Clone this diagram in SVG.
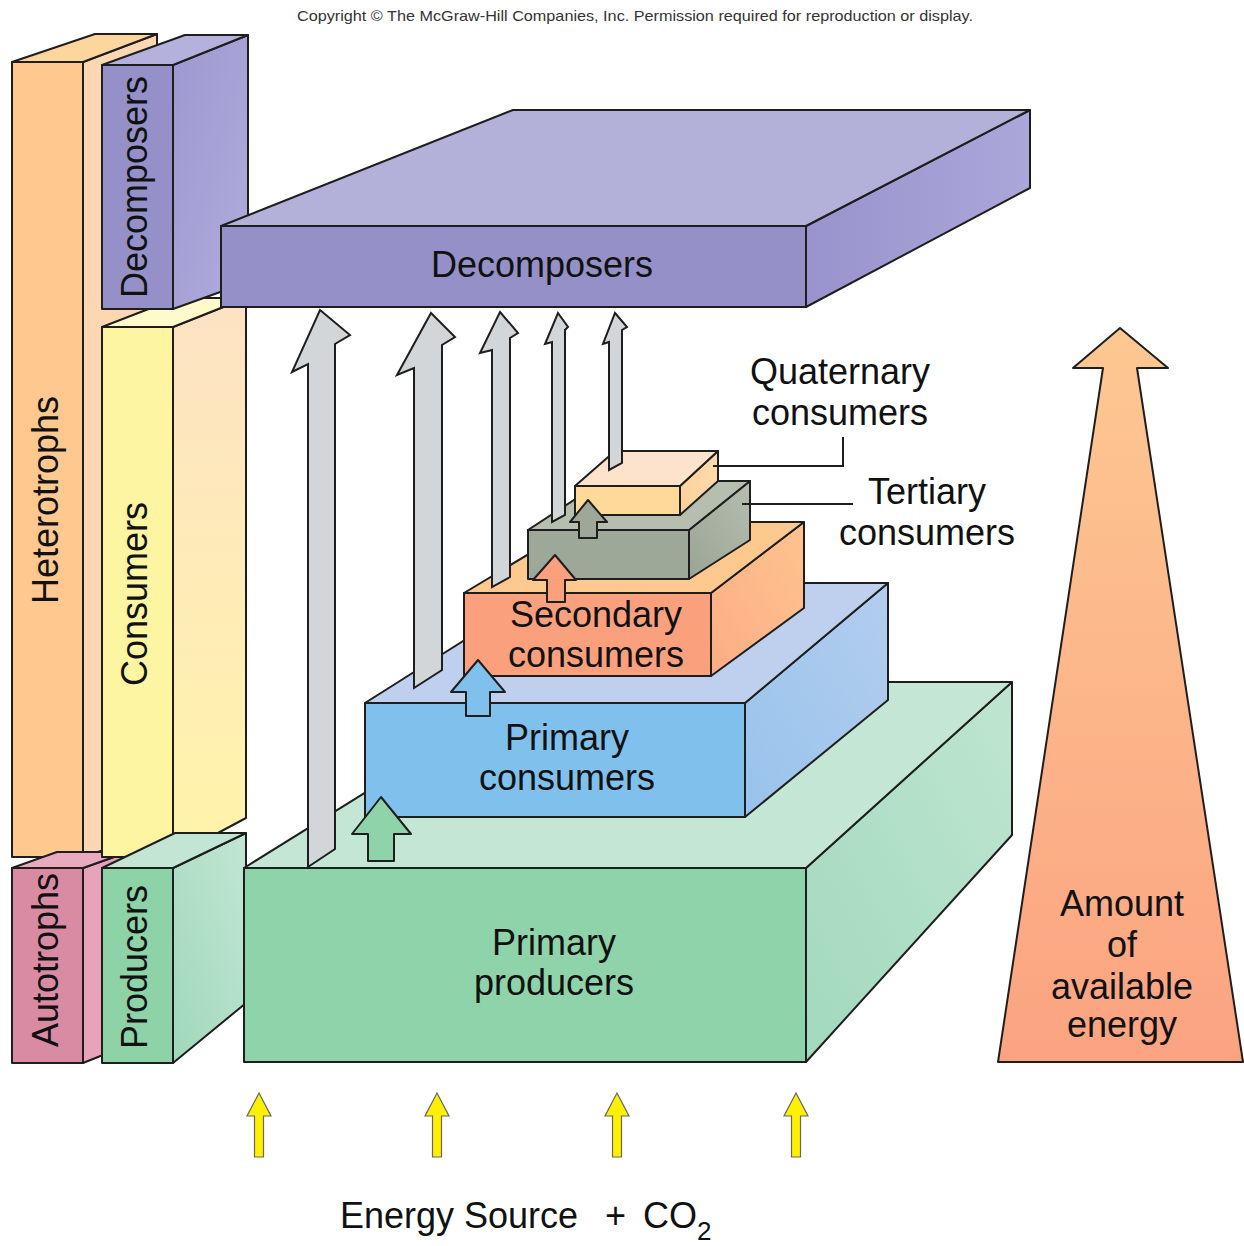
<svg xmlns="http://www.w3.org/2000/svg" width="1244" height="1246" viewBox="0 0 1244 1246">
<defs>
<style>
.s{stroke:#1e1e1e;stroke-width:2;stroke-linejoin:round}
.t{font-family:"Liberation Sans",Arial,sans-serif;font-size:36px;fill:#111}
.c{text-anchor:middle}
.ga{fill:#d3d6d9;stroke:#1e1e1e;stroke-width:2;stroke-linejoin:miter}
.ya{fill:#fff000;stroke:#666;stroke-width:1.2}
.ld{fill:none;stroke:#1e1e1e;stroke-width:2}
</style>
<linearGradient id="gSlab" x1="0" y1="0" x2="1" y2="0"><stop offset="0" stop-color="#9893cc"/><stop offset="1" stop-color="#aba7da"/></linearGradient>
<linearGradient id="gDecCol" x1="0" y1="0" x2="1" y2="1"><stop offset="0" stop-color="#9d98d0"/><stop offset="1" stop-color="#b0acdc"/></linearGradient>
<linearGradient id="gConsCol" x1="0" y1="0" x2="0" y2="1"><stop offset="0" stop-color="#fde2c4"/><stop offset="1" stop-color="#fff4aa"/></linearGradient>
<linearGradient id="gProdCol" x1="0" y1="1" x2="1" y2="0"><stop offset="0" stop-color="#9fd8ba"/><stop offset="1" stop-color="#c2e6d4"/></linearGradient>
<linearGradient id="gProd" x1="0" y1="1" x2="1" y2="0"><stop offset="0" stop-color="#a2d9bd"/><stop offset="1" stop-color="#bfe5d1"/></linearGradient>
<linearGradient id="gBlue" x1="0" y1="1" x2="1" y2="0"><stop offset="0" stop-color="#98c3ec"/><stop offset="1" stop-color="#b3cdee"/></linearGradient>
<linearGradient id="gSal" x1="0" y1="1" x2="1" y2="0"><stop offset="0" stop-color="#fcad86"/><stop offset="1" stop-color="#fec38e"/></linearGradient>
<linearGradient id="gTer" x1="0" y1="1" x2="1" y2="0"><stop offset="0" stop-color="#9aa494"/><stop offset="1" stop-color="#b6bdb0"/></linearGradient>
<linearGradient id="gQua" x1="0" y1="1" x2="1" y2="0"><stop offset="0" stop-color="#fdd096"/><stop offset="1" stop-color="#fddcb0"/></linearGradient>
<linearGradient id="gEnergy" x1="0" y1="0" x2="0" y2="1"><stop offset="0" stop-color="#fdc892"/><stop offset="1" stop-color="#fba381"/></linearGradient>
</defs>
<rect width="1244" height="1246" fill="#ffffff"/>
<text x="635" y="21" text-anchor="middle" font-family="'Liberation Sans',Arial,sans-serif" font-size="15" fill="#333" textLength="676" lengthAdjust="spacingAndGlyphs">Copyright © The McGraw-Hill Companies, Inc. Permission required for reproduction or display.</text>

<g id="heterotrophs">
<polygon class="s" points="83,62 157,34 157,832 83,857" fill="#fdd6b2"/>
<polygon class="s" points="12,62 83,62 157,34 95,34" fill="#fdd69e"/>
<rect class="s" x="12" y="62" width="71" height="795" fill="#fec88f"/>
<text class="t c" transform="translate(58,500) rotate(-90)">Heterotrophs</text>
</g>

<g id="autotrophs">
<polygon class="s" points="83,868 128,852 128,1045 83,1063" fill="#e8a2ba"/>
<polygon class="s" points="12,868 83,868 128,852 57,852" fill="#e9aac0"/>
<rect class="s" x="12" y="868" width="71" height="195" fill="#da8ba4"/>
<text class="t c" transform="translate(58,960) rotate(-90)">Autotrophs</text>
</g>

<g id="consumers-column">
<polygon class="s" points="173,327 246,298 246,818 173,857" fill="url(#gConsCol)"/>
<polygon class="s" points="102,327 173,327 246,298 177,298" fill="#fefacc"/>
<rect class="s" x="102" y="327" width="71" height="530" fill="#fef5a2"/>
<text class="t c" transform="translate(147,594) rotate(-90)">Consumers</text>
</g>

<g id="decomposers-column">
<polygon class="s" points="173,65 248,35 248,282 173,309" fill="url(#gDecCol)"/>
<polygon class="s" points="102,65 173,65 248,35 185,35" fill="#b4b1dc"/>
<rect class="s" x="102" y="65" width="71" height="244" fill="#9590c8"/>
<text class="t c" transform="translate(147,187) rotate(-90)">Decomposers</text>
</g>

<g id="producers-column">
<polygon class="s" points="173,868 246,833 246,1003 173,1063" fill="url(#gProdCol)"/>
<polygon class="s" points="102,868 173,868 246,833 175,833" fill="#c2e6d3"/>
<rect class="s" x="102" y="868" width="71" height="195" fill="#8ed2a8"/>
<text class="t c" transform="translate(147,967) rotate(-90)">Producers</text>
</g>

<g id="decomposers">
<polygon class="s" points="806,226 1030,110 1030,188 806,307" fill="url(#gSlab)"/>
<polygon class="s" points="221,226 806,226 1030,110 513,110" fill="#b3b0da"/>
<rect class="s" x="221" y="226" width="585" height="81" fill="#9590c8"/>
<text class="t c" x="542" y="277">Decomposers</text>
</g>

<g id="primary-producers">
<polygon class="s" points="806,868 1012,682 1012,835 806,1062" fill="url(#gProd)"/>
<polygon class="s" points="244,868 806,868 1012,682 543,682" fill="#c4e6d4"/>
<rect class="s" x="244" y="868" width="562" height="194" fill="#8ed3a9"/>
<text class="t c" x="554" y="955">Primary</text>
<text class="t c" x="554" y="995">producers</text>
</g>

<g id="primary-consumers">
<polygon class="s" points="745,703 888,583 888,700 745,817" fill="url(#gBlue)"/>
<polygon class="s" points="365,703 745,703 888,583 555,583" fill="#bfd0ee"/>
<rect class="s" x="365" y="703" width="380" height="114" fill="#80c0ec"/>
<text class="t c" x="567" y="750">Primary</text>
<text class="t c" x="567" y="790">consumers</text>
</g>

<g id="secondary-consumers">
<polygon class="s" points="711,593 804,522 804,608 711,676" fill="url(#gSal)"/>
<polygon class="s" points="464,593 711,593 804,522 582,522" fill="#fec98f"/>
<rect class="s" x="464" y="593" width="247" height="83" fill="#fba07d"/>
<text class="t c" x="596" y="627">Secondary</text>
<text class="t c" x="596" y="667">consumers</text>
</g>

<g id="tertiary-consumers">
<polygon class="s" points="689,530 750,481 750,540 689,579" fill="url(#gTer)"/>
<polygon class="s" points="528,530 689,530 750,481 603,481" fill="#b6beb0"/>
<rect class="s" x="528" y="530" width="161" height="49" fill="#9ea898"/>
<text class="t c" x="927" y="504">Tertiary</text>
<text class="t c" x="927" y="545">consumers</text>
</g>

<g id="quaternary-consumers">
<polygon class="s" points="680,486 718,451 718,481 680,515" fill="url(#gQua)"/>
<polygon class="s" points="575,486 680,486 718,451 615,451" fill="#fde3cb"/>
<rect class="s" x="575" y="486" width="105" height="29" fill="#fed999"/>
<text class="t c" x="840" y="384">Quaternary</text>
<text class="t c" x="840" y="425">consumers</text>
</g>

<g id="energy-arrow">
<polygon class="s" points="1120,328 1168,368 1137,368 1243,1062 998,1062 1103,368 1073,368" fill="url(#gEnergy)"/>
<text class="t c" x="1122" y="916">Amount</text>
<text class="t c" x="1122" y="957">of</text>
<text class="t c" x="1122" y="999">available</text>
<text class="t c" x="1122" y="1037">energy</text>
</g>

<g id="energy-source">
<text class="t" x="340" y="1228">Energy Source<tspan x="605">+</tspan><tspan x="643">CO</tspan><tspan font-size="26" dy="12">2</tspan></text>
</g>

<g id="connectors">
<polyline class="ld" points="713,466 843,466 843,437"/>
<line class="ld" x1="742" y1="504" x2="853" y2="504"/>
<polygon class="ga" points="320,310 350,335 335,344 335,849 308,867 308,364 292,372"/>
<polygon class="ga" points="431,313 455,337 442,345 442,670 414,688 414,368 397,375"/>
<polygon class="ga" points="500,312 518,333 510,338 510,577 492,587 492,350 480,353"/>
<polygon class="ga" points="558,313 568,327 565,330 565,515 552,522 552,342 545,344"/>
<polygon class="ga" points="615,313 627,327 622,330 622,463 609,470 609,342 603,344"/>
<polygon class="s" points="381,797 411,834 394,834 394,861 368,861 368,834 352,834" fill="#8ed3a9"/>
<polygon class="s" points="478,660 505,692 490,692 490,716 466,716 466,692 451,692" fill="#80c0ec"/>
<polygon class="s" points="555,555 576,580 565,580 565,602 547,602 547,580 533,580" fill="#fba07d"/>
<polygon class="s" points="588,500 607,522 597,522 597,538 579,538 579,522 570,522" fill="#9ea898"/>
<polygon class="ya" points="259,1093 271,1116 263.5,1116 263.5,1157 254.5,1157 254.5,1116 247,1116"/>
<polygon class="ya" points="437,1093 449,1116 441.5,1116 441.5,1157 432.5,1157 432.5,1116 425,1116"/>
<polygon class="ya" points="617,1093 629,1116 621.5,1116 621.5,1157 612.5,1157 612.5,1116 605,1116"/>
<polygon class="ya" points="796,1093 808,1116 800.5,1116 800.5,1157 791.5,1157 791.5,1116 784,1116"/>
</g>
</svg>
